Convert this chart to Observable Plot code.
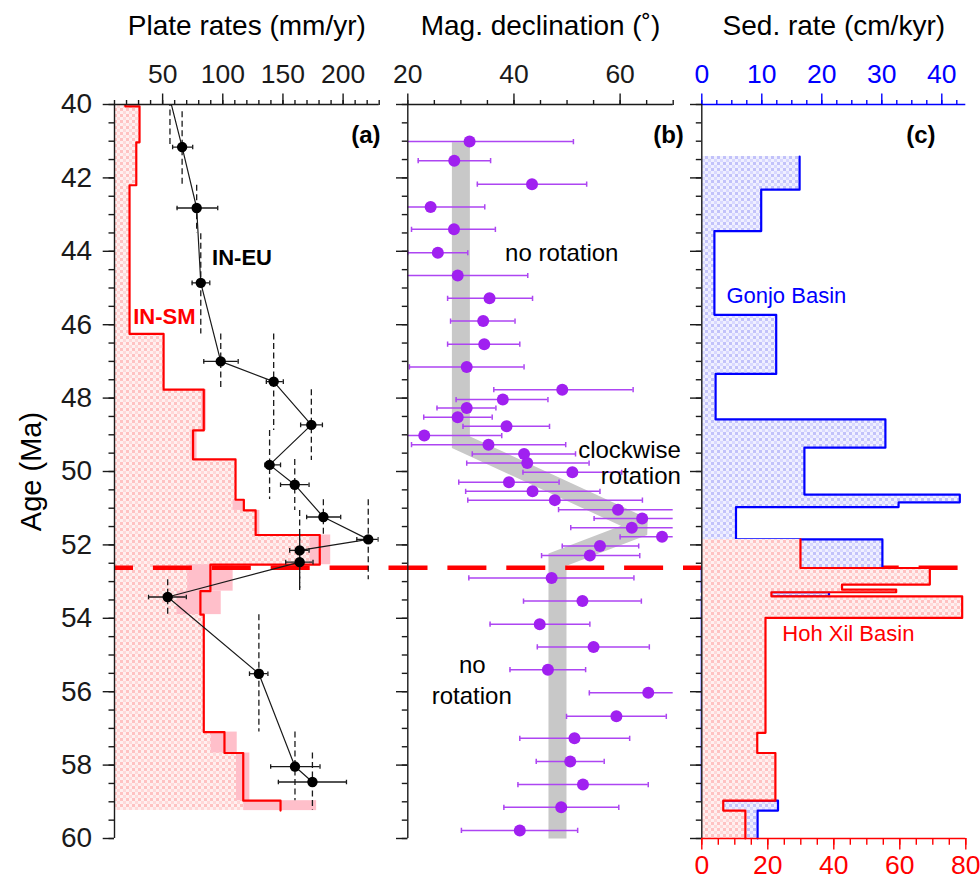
<!DOCTYPE html>
<html>
<head>
<meta charset="utf-8">
<title>Plate rates, magnetic declination and sedimentation rates, 40–60 Ma</title>
<script src="https://cdn.jsdelivr.net/npm/d3@7"></script>
<script src="https://cdn.jsdelivr.net/npm/@observablehq/plot@0.6"></script>
<style>
  html, body { margin: 0; padding: 0; background: #fff; overflow: hidden; }
  #figure { position: relative; width: 980px; height: 883px; }
  #figure > svg { position: absolute; top: 0; }
</style>
</head>
<body>
<svg width="0" height="0" style="position:absolute">
  <defs>
    <pattern id="pinkCheck" width="6" height="6" patternUnits="userSpaceOnUse">
      <rect width="6" height="6" fill="#fff0f0"/>
      <rect x="0" y="0" width="3" height="3" fill="#ffc2c2"/>
      <rect x="3" y="3" width="3" height="3" fill="#ffd8d8"/>
    </pattern>
    <pattern id="blueCheck" width="6" height="6" patternUnits="userSpaceOnUse">
      <rect width="6" height="6" fill="#f0f0ff"/>
      <rect x="0" y="0" width="3" height="3" fill="#c2c2fa"/>
      <rect x="3" y="3" width="3" height="3" fill="#d8d8ff"/>
    </pattern>
  </defs>
</svg>
<div id="figure"></div>
<script>
// ---------------- data ----------------

// Age of the collision boundary (Ma)
const boundaryAge = 52.62;

// (a) IN-SM plate rate: step boundaries (Ma) and rate in each step (mm/yr)
const insmAges  = [39.5, 40.05, 41.03, 42.2, 46.25, 47.77, 48.88, 49.67, 50.77, 51.06, 51.73, 52.54, 53.26, 53.9, 57.1, 57.67, 58.97, 59.24];
const insmRates = [19, 30.8, 28.1, 22.5, 50.8, 84.2, 75.3, 110.6, 117.5, 127.3, 180.6, 89.7, 81.4, 84.2, 101.4, 117.0, 148.0];

// (a) IN-SM rate uncertainty ranges
const insmErrTop = [47.77, 48.88, 50.77, 51.06, 51.73, 52.54, 53.26, 57.1, 57.67, 58.97];
const insmErrBot = [48.88, 49.67, 51.06, 51.73, 52.54, 53.26, 53.9, 57.67, 58.97, 59.24];
const insmErrMin = [82.5, 73.5, 108.6, 127.3, 172.5, 70.8, 62.0, 90.3, 111.4, 117.5];
const insmErrMax = [86.5, 78.6, 117.5, 130.8, 189.7, 108.6, 98.7, 112.0, 122.5, 178.0];

// (a) IN-EU convergence rate: stage mid-age, rate, rate range, stage age range
const ineuAge    = [39.85, 41.16, 42.82, 44.86, 47.0, 47.55, 48.73, 49.82, 50.36, 51.24, 51.85, 52.15, 52.47, 53.42, 55.51, 58.04, 58.46];
const ineuRate   = [56.1, 66.2, 78.3, 81.7, 98.3, 142.3, 173.6, 138.9, 159.8, 183.6, 220.9, 163.9, 163.9, 54.2, 130.0, 160.0, 174.5];
const ineuRateLo = [50.0, 58.3, 62.0, 74.5, 84.2, 136.2, 164.7, 135.0, 148.0, 169.7, 211.4, 155.6, 152.3, 38.3, 122.2, 139.8, 146.2];
const ineuRateHi = [62.0, 75.0, 95.8, 89.2, 112.8, 150.3, 182.8, 148.0, 171.7, 198.0, 229.2, 171.7, 175.0, 69.7, 137.5, 180.8, 202.8];
const ineuAgeLo  = [38.6, 40.2, 42.2, 43.52, 46.25, 46.25, 47.77, 48.88, 49.67, 50.77, 50.77, 51.06, 51.73, 52.95, 53.9, 57.1, 57.67];
const ineuAgeHi  = [41.1, 42.2, 43.5, 46.25, 47.77, 48.88, 49.7, 50.76, 51.06, 51.73, 52.95, 53.24, 53.22, 53.9, 57.1, 58.97, 59.24];

// (b) magnetic declination with 95% range
const declAge = [41.01, 41.53, 42.17, 42.79, 43.4, 44.04, 44.66, 45.28, 45.9, 46.53,
                 47.15, 47.77, 48.04, 48.27, 48.52, 48.77, 49.02, 49.27, 49.52, 49.77,
                 50.02, 50.29, 50.54, 50.78, 51.04, 51.28, 51.53, 51.78, 52.03, 52.29,
                 52.9, 53.53, 54.16, 54.78, 55.4, 56.03, 56.67, 57.27, 57.9, 58.53,
                 59.15, 59.78];
const declVal = [31.64, 28.75, 43.4, 24.3, 28.7, 25.66, 29.4, 35.4, 34.2, 34.4,
                 31.1, 49.1, 37.9, 31.1, 29.4, 38.6, 23.1, 35.2, 41.9, 42.5,
                 51.0, 39.06, 43.5, 47.7, 59.6, 64.15, 62.2, 67.9, 56.2, 54.3,
                 47.1, 52.9, 44.85, 55.0, 46.4, 65.3, 59.3, 51.4, 50.6, 53.0,
                 48.9, 41.1];
const declLo  = [12.1, 21.96, 33.1, 14.1, 20.7, 20.0, 16.2, 27.5, 28.06, 27.5,
                 20.3, 36.2, 29.1, 25.5, 23.0, 30.4, 8.5, 20.7, 32.15, 31.1,
                 41.7, 29.6, 30.9, 31.3, 48.4, 55.1, 50.7, 60.0, 49.1, 45.2,
                 31.5, 41.8, 35.5, 44.4, 39.25, 54.2, 49.9, 41.1, 44.2, 40.75,
                 38.1, 30.1];
const declHi  = [51.2, 35.6, 53.7, 34.5, 36.5, 31.3, 42.6, 43.5, 40.2, 41.1,
                 41.9, 62.45, 46.4, 36.6, 35.9, 46.7, 37.7, 49.75, 51.6, 54.15,
                 60.3, 48.5, 56.2, 64.2, 70.8, 73.2, 73.7, 75.8, 63.5, 63.7,
                 62.6, 64.0, 54.3, 65.5, 53.5, 76.4, 68.7, 61.8, 57.0, 65.3,
                 59.75, 52.0];

// (b) rotation trend
const trendAge  = [41.03, 49.2, 51.5, 52.4, 60];
const trendDecl = [30, 30, 64.5, 48.2, 48.2];

// (c) Gonjo Basin sedimentation rate (cm/kyr, top scale)
const gonjoAges  = [41.42, 42.32, 43.45, 45.73, 47.34, 48.58, 49.35, 50.63, 50.84, 50.97, 51.85, 52.63, 53.29, 53.4, 58.97, 59.24, 60];
const gonjoRates = [16.3, 9.9, 2.1, 12.4, 2.3, 30.6, 17.1, 43.0, 32.8, 5.7, 30.1, 0, 21.2, 0, 12.7, 9.3];

// (c) Hoh Xil Basin sedimentation rate (cm/kyr, bottom scale)
const hohxilAges  = [51.85, 52.63, 53.08, 53.22, 53.29, 53.4, 53.99, 57.12, 57.67, 58.97, 59.24, 60];
const hohxilRates = [29.9, 69.1, 42.5, 58.9, 21.1, 78.9, 19.3, 16.8, 22.3, 6.5, 13.2];

// axis ticks
const ageMajor = d3.range(40, 60.01, 2);
const ageMinor = d3.range(40, 60.01, 0.5);
const rateMajor = [50, 100, 150, 200];
const rateMinor = d3.range(10, 230.01, 10);
const declMajor = [20, 40, 60];
const declMinor = d3.range(20, 70.01, 5);
const gonjoMajor = [0, 10, 20, 30, 40];
const gonjoMinor = d3.range(0, 44.01, 2.5);
const hohxilMajor = [0, 20, 40, 60, 80];
const hohxilMinor = d3.range(0, 80.01, 5);

// ---------------- helpers ----------------
const FONT = '"Liberation Sans", Arial, Helvetica, sans-serif';
const INK = "#1a1a1a";
const RED = "#ff0000", BLUE = "#0000ff";
const PURPLE = "#a020f0", PURPLE_BAR = "#ad45f2";
const H = 883, MT = 104, MB = 45;
const STYLE = `font-family: ${FONT}; background: transparent; overflow: visible;`;
const ageScale = {domain: [40, 60], reverse: true, axis: null};

// vertical end-cap for horizontal error bars
const capMark = {draw(ctx, size) { const h = Math.sqrt(size / Math.PI); ctx.moveTo(0, -h); ctx.lineTo(0, h); }};

// step profile: each value holds from one boundary age to the next
const steps = (bounds, values) => values.flatMap((v, i) => [{v, age: bounds[i]}, {v, age: bounds[i + 1]}]);

function stepProfile(bounds, values, fill, stroke, clip) {
  const pts = steps(bounds, values);
  return [
    Plot.areaX(pts, {x1: 0, x2: "v", y: "age", fill, clip}),
    Plot.line(pts, {x: "v", y: "age", stroke, strokeWidth: 2.2, clip})
  ];
}
function ageAxis(x0, labelled) {
  return [
    Plot.axisY(ageMinor, {anchor: "left", tickSize: 5.5, tickFormat: () => "", stroke: INK, strokeWidth: 1.4, label: null}),
    Plot.axisY(ageMajor, {anchor: "left", tickSize: 11.3, tickPadding: 11, fontSize: 28,
      tickFormat: labelled ? d3.format("d") : () => "", color: INK, strokeWidth: 1.4, label: null}),
    Plot.ruleX([x0], {stroke: INK, strokeWidth: 1.4})
  ];
}
function valueAxis(anchor, major, minor, color, edge) {
  return [
    Plot.axisX(minor, {anchor, tickSize: anchor === "top" ? 5 : 6.7, tickFormat: () => "", stroke: color, strokeWidth: 1.4, label: null}),
    Plot.axisX(major, {anchor, tickSize: 11.5, tickPadding: anchor === "top" ? 10.5 : 5, fontSize: 26.5,
      tickFormat: d3.format("d"), color, strokeWidth: 1.4, label: null}),
    Plot.ruleY([edge], {stroke: color, strokeWidth: 1.4})
  ];
}
function boundaryRule(insetLeft, insetRight, offset) {
  return Plot.ruleY([boundaryAge], {stroke: RED, strokeWidth: 4.5, strokeDasharray: "39,19.9",
    strokeDashoffset: offset, insetLeft, insetRight});
}
function title(text) {
  return Plot.text([text], {frameAnchor: "top", lineAnchor: "middle", dy: -78, fontSize: 28, fill: "#000"});
}
function panelTag(text, dx) {
  return Plot.text([text], {frameAnchor: "top-right", textAnchor: "end", lineAnchor: "middle", dx, dy: 31,
    fontSize: 24, fontWeight: "bold", fill: "#000"});
}
function errorBars(data, color, width, capR) {
  return [
    Plot.ruleY(data, {y: "age", x1: "lo", x2: "hi", stroke: color, strokeWidth: width, clip: true}),
    Plot.dot(data, {x: "lo", y: "age", symbol: capMark, r: capR, stroke: color, strokeWidth: width, fill: "none", clip: true}),
    Plot.dot(data, {x: "hi", y: "age", symbol: capMark, r: capR, stroke: color, strokeWidth: width, fill: "none", clip: true})
  ];
}

// ---------------- tables ----------------
const insmErr = insmErrTop.map((t, i) => ({top: t, bot: insmErrBot[i], lo: insmErrMin[i], hi: insmErrMax[i]}));
const ineu = ineuAge.map((a, i) => ({age: a, rate: ineuRate[i], lo: ineuRateLo[i], hi: ineuRateHi[i], ageLo: ineuAgeLo[i], ageHi: ineuAgeHi[i]}));
const decl = declAge.map((a, i) => ({age: a, decl: declVal[i], lo: declLo[i], hi: declHi[i]}));
const trend = trendAge.map((a, i) => ({age: a, decl: trendDecl[i]}));

// ---------------- (a) plate rates ----------------
const insmProfile = stepProfile(insmAges, insmRates, "url(#pinkCheck)", RED, true);
const panelA = Plot.plot({
  width: 392, height: H, marginTop: MT, marginBottom: MB, marginLeft: 114, marginRight: 13.3,
  style: STYLE,
  x: {domain: [10, 230], axis: null},
  y: ageScale,
  marks: [
    insmProfile[0],
    Plot.rect(insmErr, {x1: "lo", x2: "hi", y1: "top", y2: "bot", fill: "#ffbfca"}),
    insmProfile[1],
    boundaryRule(0, -13.3, 20),
    Plot.ruleX(ineu, {x: "rate", y1: "ageLo", y2: "ageHi", stroke: INK, strokeWidth: 1.3, strokeDasharray: "6,3.5", clip: true}),
    Plot.line(ineu, {x: "rate", y: "age", stroke: INK, strokeWidth: 1.2, clip: true}),
    ...errorBars(ineu, INK, 1.3, 2.3),
    Plot.dot(ineu, {x: "rate", y: "age", r: 5.2, fill: "#000", clip: true}),
    Plot.text(["IN-EU"], {x: 116, y: 44.17, fontSize: 22, fontWeight: "bold", fill: "#000"}),
    Plot.text(["IN-SM"], {x: 51.4, y: 45.8, fontSize: 22, fontWeight: "bold", fill: RED}),
    panelTag("(a)", 1.3),
    title("Plate rates (mm/yr)"),
    Plot.text(["Age (Ma)"], {frameAnchor: "left", textAnchor: "middle", lineAnchor: "middle", rotate: -90, dx: -83, fontSize: 29, fill: "#000"}),
    ...ageAxis(10, true),
    ...valueAxis("top", rateMajor, rateMinor, INK, 40)
  ]
});

// ---------------- (b) magnetic declination ----------------
const panelB = Plot.plot({
  width: 295, height: H, marginTop: MT, marginBottom: MB, marginLeft: 15.3, marginRight: 14.3,
  style: STYLE,
  x: {domain: [20, 70], axis: null},
  y: ageScale,
  marks: [
    Plot.line(trend, {x: "decl", y: "age", stroke: "#c8c8c8", strokeWidth: 18, strokeLinejoin: "miter", strokeMiterlimit: 2, strokeLinecap: "butt"}),
    boundaryRule(-15.3, -14.3, 3.5),
    ...errorBars(decl, PURPLE_BAR, 1.5, 2.6),
    Plot.dot(decl, {x: "decl", y: "age", r: 6, fill: PURPLE}),
    Plot.text(["no rotation"], {x: 49.0, y: 44.06, fontSize: 24, fill: "#000"}),
    Plot.text(["clockwise"], {x: 71.45, y: 49.43, textAnchor: "end", fontSize: 24, fill: "#000"}),
    Plot.text(["rotation"], {x: 71.45, y: 50.14, textAnchor: "end", fontSize: 24, fill: "#000"}),
    Plot.text(["no"], {x: 32.15, y: 55.29, fontSize: 24, fill: "#000"}),
    Plot.text(["rotation"], {x: 32.05, y: 56.13, fontSize: 24, fill: "#000"}),
    panelTag("(b)", 10.6),
    title("Mag. declination (˚)"),
    ...ageAxis(20, false),
    ...valueAxis("top", declMajor, declMinor, INK, 40)
  ]
});

// ---------------- (c) sedimentation rates ----------------
// Gonjo Basin (top, blue scale) sits underneath Hoh Xil Basin (bottom, red scale)
const panelC1 = Plot.plot({
  width: 293, height: H, marginTop: MT, marginBottom: MB, marginLeft: 14.3, marginRight: 14.7,
  style: STYLE,
  x: {domain: [0, 44], axis: null},
  y: ageScale,
  marks: [
    boundaryRule(-14.3, 0, 4),
    ...stepProfile(gonjoAges, gonjoRates, "url(#blueCheck)", BLUE, false),
    Plot.text(["Gonjo Basin"], {x: 4.1, y: 45.23, textAnchor: "start", fontSize: 22, fill: BLUE}),
    title("Sed. rate (cm/kyr)"),
    ...valueAxis("top", gonjoMajor, gonjoMinor, BLUE, 40)
  ]
});

const panelC2 = Plot.plot({
  width: 293, height: H, marginTop: MT, marginBottom: MB, marginLeft: 14.3, marginRight: 14.7,
  style: STYLE,
  x: {domain: [0, 80], axis: null},
  y: ageScale,
  marks: [
    ...stepProfile(hohxilAges, hohxilRates, "url(#pinkCheck)", RED, false),
    Plot.text(["Hoh Xil Basin"], {x: 24.4, y: 54.44, textAnchor: "start", fontSize: 22, fill: RED}),
    panelTag("(c)", -30.3),
    ...ageAxis(0, false),
    ...valueAxis("bottom", hohxilMajor, hohxilMinor, RED, 60)
  ]
});

const fig = document.getElementById("figure");
[[panelA, 0], [panelB, 392], [panelC1, 687], [panelC2, 687]].forEach(([svg, left]) => {
  svg.style.left = left + "px";
  fig.appendChild(svg);
});
</script>
</body>
</html>
